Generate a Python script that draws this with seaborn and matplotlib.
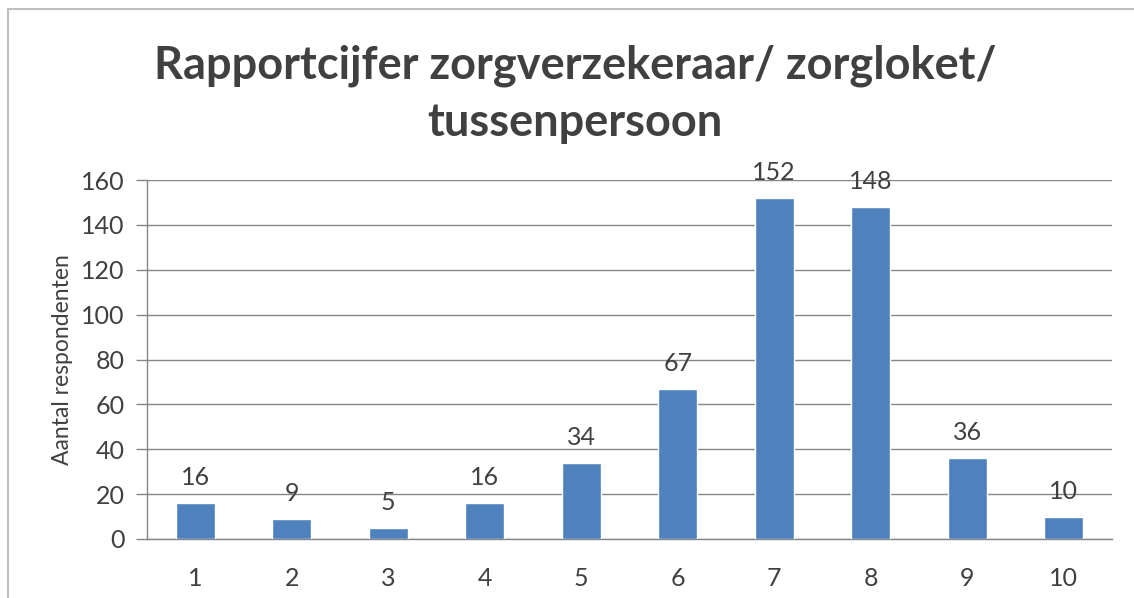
import matplotlib
matplotlib.use("Agg")
import matplotlib.pyplot as plt
import seaborn as sns
import pandas as pd
from matplotlib.patches import Rectangle

# Data
cijfers = ["1", "2", "3", "4", "5", "6", "7", "8", "9", "10"]
aantallen = [16, 9, 5, 16, 34, 67, 152, 148, 36, 10]
y_ticks = [0, 20, 40, 60, 80, 100, 120, 140, 160]

df = pd.DataFrame({"cijfer": cijfers, "aantal": aantallen})

sns.set_style("white")
plt.rcParams["font.family"] = ["Lato", "DejaVu Sans"]

text_col = "#404040"
grid_col = "#868686"

fig = plt.figure(figsize=(11.34, 5.98), dpi=100)
ax = fig.add_axes([147 / 1134, 1 - 539 / 598, 965 / 1134, 359 / 598])

sns.barplot(data=df, x="cijfer", y="aantal", color="#4F81BD", width=0.4,
            saturation=1, ax=ax, zorder=3)

ax.set_ylim(0, 160)
ax.set_xlim(-0.5, 9.5)
ax.set_yticks(y_ticks)
ax.yaxis.grid(True, color=grid_col, linewidth=1, zorder=0)
ax.set_axisbelow(True)

for s in ["top", "right"]:
    ax.spines[s].set_visible(False)
for s in ["left", "bottom"]:
    ax.spines[s].set_color(grid_col)
    ax.spines[s].set_linewidth(1)

# tick marks between categories
ax.set_xticks([i - 0.5 for i in range(11)], minor=True)
ax.tick_params(axis="x", which="minor", length=8, color=grid_col, width=1)
ax.tick_params(axis="x", which="major", length=0, pad=20, labelsize=18,
               labelcolor=text_col)
ax.tick_params(axis="y", which="major", length=8, color=grid_col, width=1,
               labelsize=18, labelcolor=text_col, pad=8, left=True)

ax.set_xlabel("")
ax.set_ylabel("Aantal respondenten", fontsize=16.5, color=text_col, labelpad=6)

labels = ax.bar_label(ax.containers[0], padding=10, fontsize=18, color=text_col)
for t in labels:
    t.set_clip_on(False)

fig.text(575 / 1134, 1 - 94 / 598, "Rapportcijfer zorgverzekeraar/ zorgloket/\ntussenpersoon",
         ha="center", va="center", fontsize=32.5, fontweight="bold", color=text_col,
         linespacing=1.45)

# chart outer border (only top and left visible)
fig.patches.append(Rectangle((8 / 1134, -0.1), 1.2, 1 - 9 / 598 + 0.1,
                             transform=fig.transFigure, fill=False,
                             edgecolor="#BFBFBF", linewidth=1.5))

fig.savefig("out.png", dpi=100)
